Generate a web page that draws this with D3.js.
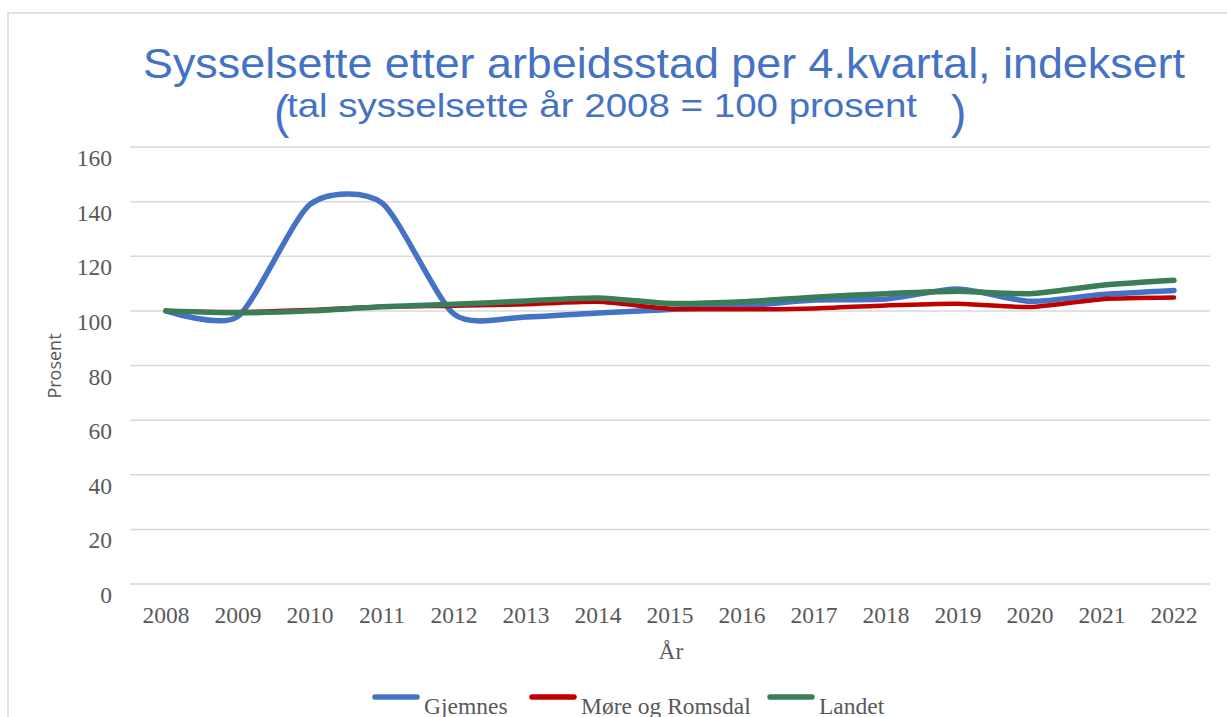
<!DOCTYPE html>
<html>
<head>
<meta charset="utf-8">
<script src="https://cdn.jsdelivr.net/npm/d3@7"></script>
<style>
  body { margin: 0; background: #fff; }
  svg { display: block; }
</style>
</head>
<body>
<div class="chart"></div>
<script>
// chart values
const YEARS = ["2008", "2009", "2010", "2011", "2012", "2013", "2014", "2015",
  "2016", "2017", "2018", "2019", "2020", "2021", "2022"];
const GJEMNES = [100, 98, 139, 139.5, 98.8, 97.8, 99.2, 100.5, 101.7, 104, 104.3, 108, 103.5, 106, 107.5];
const MOERE = [100, 99.6, 100.3, 101.5, 101.9, 102.4, 103.3, 100.8, 100.6, 100.9, 102, 102.6, 101.4, 104.3, 104.9];
const LANDET = [100, 99.3, 100, 101.5, 102.4, 103.6, 104.7, 102.7, 103.3, 105, 106.3, 107.2, 106.3, 109.4, 111.2];
const Y_TICKS = [0, 20, 40, 60, 80, 100, 120, 140, 160];

const SERIES = [
  { name: "Gjemnes", values: GJEMNES, color: "#4472C4", width: 5.5 },
  { name: "Møre og Romsdal", values: MOERE, color: "#C00000", width: 4.5 },
  { name: "Landet", values: LANDET, color: "#3A7D57", width: 5.5 },
];

const W = 1227, H = 717;
const SERIF = "'Liberation Serif', 'Times New Roman', serif";
const SANS = "'Liberation Sans', Arial, sans-serif";
const TEXT = "#595959";
const GRID = "#d9d9d9";
const FS = 23.5;

const svg = d3.select(".chart").append("svg").attr("width", W).attr("height", H);

// outer chart frame
svg.append("path")
  .attr("d", `M8,${H} V13 H${W}`)
  .attr("fill", "none")
  .attr("stroke", GRID)
  .attr("stroke-width", 1.5);

const xScale = d3.scaleBand().domain(YEARS).range([130, 1210]);
const yScale = d3.scaleLinear().domain([0, 160]).range([584, 147]);
const xMid = d => xScale(d) + xScale.bandwidth() / 2;

// gridlines
svg.append("g")
  .selectAll("line")
  .data(Y_TICKS)
  .join("line")
  .attr("x1", xScale.range()[0])
  .attr("x2", xScale.range()[1])
  .attr("y1", d => yScale(d))
  .attr("y2", d => yScale(d))
  .attr("stroke", GRID)
  .attr("stroke-width", 1.5);

// y tick labels
svg.append("g")
  .selectAll("text")
  .data(Y_TICKS)
  .join("text")
  .attr("x", 112)
  .attr("y", d => yScale(d) + 19)
  .attr("text-anchor", "end")
  .attr("font-family", SERIF)
  .attr("font-size", FS)
  .attr("fill", TEXT)
  .text(d => d);

// x tick labels
svg.append("g")
  .selectAll("text")
  .data(YEARS)
  .join("text")
  .attr("x", d => xMid(d))
  .attr("y", 623)
  .attr("text-anchor", "middle")
  .attr("font-family", SERIF)
  .attr("font-size", FS)
  .attr("fill", TEXT)
  .text(d => d);

// axis titles
svg.append("text")
  .attr("x", 671)
  .attr("y", 659)
  .attr("text-anchor", "middle")
  .attr("font-family", SERIF)
  .attr("font-size", FS)
  .attr("fill", TEXT)
  .text("År");

svg.append("text")
  .attr("transform", "translate(61,366) rotate(-90)")
  .attr("text-anchor", "middle")
  .attr("font-family", "'Open Sans', sans-serif")
  .attr("font-size", 18)
  .attr("fill", TEXT)
  .text("Prosent");

// lines
const line = d3.line()
  .x((d, i) => xMid(YEARS[i]))
  .y(d => yScale(d))
  .curve(d3.curveCardinal.tension(0.3));

svg.append("g")
  .selectAll("path")
  .data(SERIES)
  .join("path")
  .attr("d", d => line(d.values))
  .attr("fill", "none")
  .attr("stroke", d => d.color)
  .attr("stroke-width", d => d.width)
  .attr("stroke-linecap", "round")
  .attr("stroke-linejoin", "round");

// title
svg.append("text")
  .attr("x", 143)
  .attr("y", 78)
  .attr("font-family", SANS)
  .attr("font-size", 43)
  .attr("fill", "#4472C4")
  .attr("textLength", 1042)
  .attr("lengthAdjust", "spacingAndGlyphs")
  .text("Sysselsette etter arbeidsstad per 4.kvartal, indeksert");

svg.append("text")
  .attr("x", 274)
  .attr("y", 128)
  .attr("font-family", SANS)
  .attr("font-size", 46)
  .attr("fill", "#4472C4")
  .text("(");

svg.append("text")
  .attr("x", 287)
  .attr("y", 117)
  .attr("font-family", SANS)
  .attr("font-size", 34)
  .attr("fill", "#4472C4")
  .attr("textLength", 630)
  .attr("lengthAdjust", "spacingAndGlyphs")
  .text("tal sysselsette år 2008 = 100 prosent");

svg.append("text")
  .attr("x", 951)
  .attr("y", 128)
  .attr("font-family", SANS)
  .attr("font-size", 46)
  .attr("fill", "#4472C4")
  .text(")");

// legend
const LEGEND_X = [373, 530, 768];
const legend = svg.append("g")
  .selectAll("g")
  .data(SERIES)
  .join("g")
  .attr("transform", (d, i) => `translate(${LEGEND_X[i]},697)`);

legend.append("line")
  .attr("x1", 2)
  .attr("x2", 44)
  .attr("stroke", d => d.color)
  .attr("stroke-width", 5.5)
  .attr("stroke-linecap", "round");

legend.append("text")
  .attr("x", 51)
  .attr("y", 17)
  .attr("font-family", SERIF)
  .attr("font-size", FS)
  .attr("fill", TEXT)
  .text(d => d.name);
</script>
</body>
</html>
